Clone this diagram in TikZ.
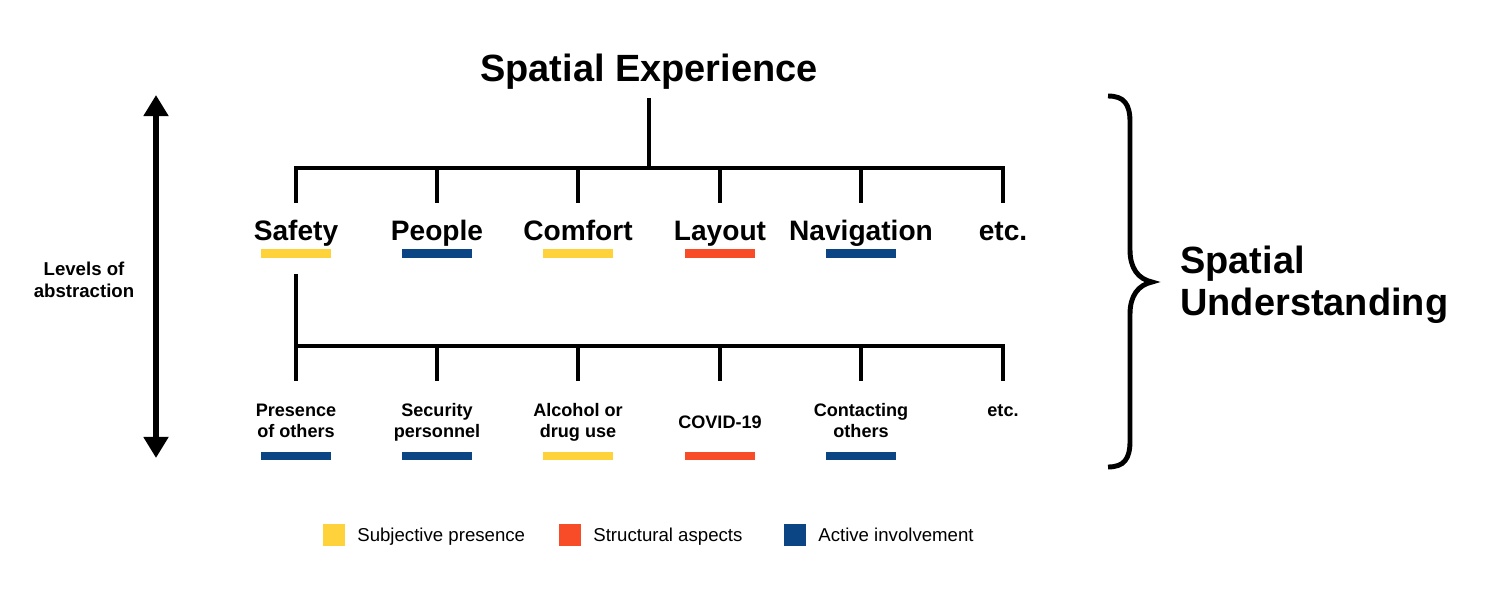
\documentclass[tikz,border=0pt]{standalone}
\usepackage{fontspec}
\setmainfont{Liberation Sans}
\usetikzlibrary{arrows.meta}
\definecolor{subjective}{RGB}{253,210,58}
\definecolor{structural}{RGB}{247,76,39}
\definecolor{active}{RGB}{11,69,131}

\begin{document}
\begin{tikzpicture}[x=0.2mm,y=-0.2mm,
            tree/.style={line width=2.3pt},
            head/.style={font=\fontsize{21.6}{23.8}\selectfont\bfseries,inner sep=0pt,anchor=base},
            cat/.style={font=\fontsize{16}{19}\selectfont\bfseries,inner sep=0pt,anchor=base},
            sub/.style={font=\fontsize{10.3}{11.9}\selectfont\bfseries,inner sep=0pt,anchor=base,align=center},
            bar/.style={minimum width=40.2pt,minimum height=5.1pt,inner sep=0pt},
            key/.style={minimum size=12.5pt,inner sep=0pt},
            keytext/.style={font=\fontsize{10.6}{12}\selectfont,inner sep=0pt,anchor=base west}]
            \useasboundingbox (0,0) rectangle (1509,588);

            \coordinate (t0) at (649,98);
            \coordinate (t1) at (649,168);
            \coordinate (a1) at (296,168);
            \coordinate (a2) at (437,168);
            \coordinate (a3) at (578,168);
            \coordinate (a4) at (720,168);
            \coordinate (a5) at (861,168);
            \coordinate (a6) at (1003,168);
            \coordinate (d1) at (296,203);
            \coordinate (d2) at (437,203);
            \coordinate (d3) at (578,203);
            \coordinate (d4) at (720,203);
            \coordinate (d5) at (861,203);
            \coordinate (d6) at (1003,203);

            \coordinate (s0) at (296,274);
            \coordinate (s1) at (296,381);
            \coordinate (h1) at (296,346);
            \coordinate (h2) at (437,346);
            \coordinate (h3) at (578,346);
            \coordinate (h4) at (720,346);
            \coordinate (h5) at (861,346);
            \coordinate (h6) at (1003,346);
            \coordinate (e2) at (437,381);
            \coordinate (e3) at (578,381);
            \coordinate (e4) at (720,381);
            \coordinate (e5) at (861,381);
            \coordinate (e6) at (1003,381);

            \coordinate (up) at (156,95);
            \coordinate (down) at (156,458);

            \node[head] (experience) at (649,81) {Spatial Experience};

            \node[cat] (safety) at (296,240) {Safety};
            \node[cat] (people) at (437,240) {People};
            \node[cat] (comfort) at (578,240) {Comfort};
            \node[cat] (layout) at (720,240) {Layout};
            \node[cat] (navigation) at (861,240) {Navigation};
            \node[cat] (etc1) at (1003,240) {etc.};

            \node[bar,fill=subjective] (bsafety) at (296,253.5) {};
            \node[bar,fill=active] (bpeople) at (437,253.5) {};
            \node[bar,fill=subjective] (bcomfort) at (578,253.5) {};
            \node[bar,fill=structural] (blayout) at (720,253.5) {};
            \node[bar,fill=active] (bnavigation) at (861,253.5) {};

            \node[sub] (presence) at (296,437) {Presence\\of others};
            \node[sub] (security) at (437,437) {Security\\personnel};
            \node[sub] (alcohol) at (578,437) {Alcohol or\\drug use};
            \node[sub] (covid) at (720,428) {COVID-19};
            \node[sub] (contacting) at (861,437) {Contacting\\others};
            \node[sub] (etc2) at (1003,416) {etc.};

            \node[bar,fill=active] (bpresence) at (296,456) {};
            \node[bar,fill=active] (bsecurity) at (437,456) {};
            \node[bar,fill=subjective] (balcohol) at (578,456) {};
            \node[bar,fill=structural] (bcovid) at (720,456) {};
            \node[bar,fill=active] (bcontacting) at (861,456) {};

            \draw[tree] (t0) -- (t1);
            \draw[tree] (d1) -- (a1) -- (a6) -- (d6);
            \draw[tree] (a2) -- (d2);
            \draw[tree] (a3) -- (d3);
            \draw[tree] (a4) -- (d4);
            \draw[tree] (a5) -- (d5);

            \draw[tree] (s0) -- (s1);
            \draw[tree] (h1) -- (h6) -- (e6);
            \draw[tree] (h2) -- (e2);
            \draw[tree] (h3) -- (e3);
            \draw[tree] (h4) -- (e4);
            \draw[tree] (h5) -- (e5);

            \draw[line width=3.1pt,{Triangle[length=12pt,width=13.6pt]}-{Triangle[length=12pt,width=13.6pt]}] (up) -- (down);
            \node[sub,font=\fontsize{10.6}{12.5}\selectfont\bfseries] (levels) at (84,297) {Levels of\\abstraction};

            \draw[line width=2.8pt] (1108,96) .. controls (1124,96) and (1130,104) .. (1130,122)
                -- (1130,250) .. controls (1130,268) and (1138,279) .. (1152,282)
                .. controls (1138,285) and (1130,296) .. (1130,314)
                -- (1130,441) .. controls (1130,459) and (1124,467) .. (1108,467);
            \node[head,anchor=base west,align=left] (understanding) at (1180,315) {Spatial\\Understanding};

            \node[key,fill=subjective] (ksubjective) at (334,535) {};
            \node[key,fill=structural] (kstructural) at (570,535) {};
            \node[key,fill=active] (kactive) at (795,535) {};
            \node[keytext] (lsubjective) at (357,541) {Subjective presence};
            \node[keytext] (lstructural) at (593,541) {Structural aspects};
            \node[keytext] (lactive) at (818,541) {Active involvement};
        \end{tikzpicture}
\end{document}
